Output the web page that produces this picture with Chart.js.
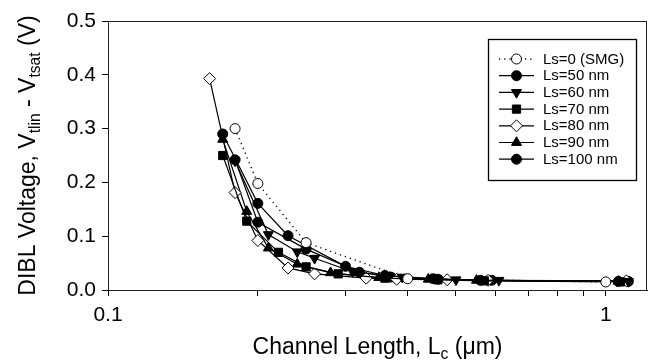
<!DOCTYPE html>
<html>
<head>
<meta charset="utf-8">
<script src="https://cdn.jsdelivr.net/npm/chart.js@4.4.1/dist/chart.umd.min.js"></script>
<style>
  html, body { margin: 0; padding: 0; background: #fff; }
  #wrap { width: 654px; height: 362px; }
</style>
</head>
<body>
<div id="wrap"><canvas id="dibl" width="654" height="362"></canvas></div>
<script>
// channel length Lc (um) and DIBL (V), one pair of arrays per Ls
const lcLs0   = [0.18, 0.20, 0.25, 0.40, 1.00];
const diblLs0 = [0.300, 0.198, 0.088, 0.021, 0.015];

const lcLs50   = [0.17, 0.20, 0.23, 0.30, 0.36, 0.45, 0.56, 1.06];
const diblLs50 = [0.290, 0.161, 0.101, 0.044, 0.027, 0.021, 0.018, 0.016];

const lcLs60   = [0.18, 0.21, 0.24, 0.26, 0.31, 0.39, 0.50, 0.61, 1.11];
const diblLs60 = [0.240, 0.103, 0.071, 0.059, 0.034, 0.024, 0.019, 0.018, 0.016];

const lcLs70   = [0.17, 0.19, 0.22, 0.25, 0.29, 0.36, 0.46, 0.57, 1.07];
const diblLs70 = [0.250, 0.128, 0.070, 0.043, 0.030, 0.022, 0.019, 0.017, 0.015];

const lcLs80   = [0.16, 0.18, 0.20, 0.23, 0.26, 0.33, 0.38, 0.48, 0.58, 1.10];
const diblLs80 = [0.393, 0.181, 0.092, 0.041, 0.030, 0.022, 0.020, 0.019, 0.018, 0.017];

const lcLs90   = [0.17, 0.19, 0.21, 0.24, 0.28, 0.35, 0.44, 0.55, 1.06];
const diblLs90 = [0.280, 0.146, 0.078, 0.048, 0.032, 0.023, 0.020, 0.018, 0.016];

const lcLs100   = [0.18, 0.20, 0.25, 0.32, 0.37, 0.46, 0.59, 1.11];
const diblLs100 = [0.242, 0.126, 0.076, 0.033, 0.024, 0.020, 0.018, 0.016];

const seriesNames = ['Ls=0 (SMG)', 'Ls=50 nm', 'Ls=60 nm', 'Ls=70 nm', 'Ls=80 nm', 'Ls=90 nm', 'Ls=100 nm'];
const xTickValues = [0.1, 0.2, 0.3, 0.4, 0.5, 0.6, 0.7, 0.8, 0.9, 1];
const xTickLabels = { 0.1: '0.1', 1: '1' };

const FONT = "'Liberation Sans', Arial, Helvetica, sans-serif";

const pairs = (xs, ys) => xs.map((x, i) => ({ x: x, y: ys[i] }));

const mk = (label, xs, ys, style, fill, extra) => Object.assign({
    label: label,
    data: pairs(xs, ys),
    borderColor: '#000',
    borderWidth: 1.2,
    pointStyle: style,
    pointRadius: 5,
    pointHoverRadius: 5,
    pointBorderWidth: 1,
    pointBorderColor: '#000',
    pointBackgroundColor: fill,
    tension: 0
}, extra || {});

const datasets = [
    mk(seriesNames[0], lcLs0, diblLs0, 'circle', '#fff', { borderDash: [1.2, 4], borderWidth: 1.4 }),
    mk(seriesNames[1], lcLs50, diblLs50, 'circle', '#000'),
    mk(seriesNames[2], lcLs60, diblLs60, 'triangle', '#000', { pointRotation: 180, pointRadius: 5.8 }),
    mk(seriesNames[3], lcLs70, diblLs70, 'rect', '#000', { pointRadius: 5.8 }),
    mk(seriesNames[4], lcLs80, diblLs80, 'rectRot', '#fff', { pointRadius: 6 }),
    mk(seriesNames[5], lcLs90, diblLs90, 'triangle', '#000', { pointRadius: 5.8 }),
    mk(seriesNames[6], lcLs100, diblLs100, 'circle', '#000')
];

// text with subscripts, drawn from the left end at baseline y
function richWidth(ctx, parts, size) {
    let w = 0;
    parts.forEach(p => {
        ctx.font = (p.sub ? size * 0.68 : size) + 'px ' + FONT;
        w += ctx.measureText(p.t).width;
    });
    return w;
}
function drawRich(ctx, parts, x, y, size) {
    let cx = x;
    parts.forEach(p => {
        const s = p.sub ? size * 0.68 : size;
        ctx.font = s + 'px ' + FONT;
        ctx.fillText(p.t, cx, p.sub ? y + size * 0.22 : y);
        cx += ctx.measureText(p.t).width;
    });
}

const yTitle = [{ t: 'DIBL Voltage, V' }, { t: 'tlin', sub: true }, { t: ' - V' }, { t: 'tsat', sub: true }, { t: ' (V)' }];
const xTitle = [{ t: 'Channel Length, L' }, { t: 'c', sub: true }, { t: ' (\u03bcm)' }];

const extras = {
    id: 'extras',
    afterDraw(chart) {
        const ctx = chart.ctx;
        const a = chart.chartArea;
        ctx.save();
        // frame
        ctx.strokeStyle = '#222';
        ctx.lineWidth = 1;
        ctx.strokeRect(a.left + 0.5, a.top + 0.5, a.right - a.left - 1, a.bottom - a.top);

        // axis titles
        ctx.fillStyle = '#000';
        ctx.textBaseline = 'alphabetic';
        const ts = 23;
        let w = richWidth(ctx, xTitle, ts);
        drawRich(ctx, xTitle, (a.left + a.right) / 2 - w / 2, 354, ts);
        ctx.save();
        ctx.translate(35, (a.top + a.bottom) / 2);
        ctx.rotate(-Math.PI / 2);
        w = richWidth(ctx, yTitle, ts);
        drawRich(ctx, yTitle, -w / 2, 0, ts);
        ctx.restore();

        // legend box
        const bx = 488, by = 39, bw = 148, bh = 141;
        ctx.fillStyle = '#fff';
        ctx.fillRect(bx, by, bw, bh);
        ctx.strokeStyle = '#000';
        ctx.lineWidth = 1.3;
        ctx.strokeRect(bx + 0.5, by + 0.5, bw, bh);
        chart.data.datasets.forEach((ds, i) => {
            const y = 59 + i * 16.7;
            ctx.strokeStyle = '#000';
            ctx.lineWidth = ds.borderWidth;
            ctx.setLineDash(ds.borderDash || []);
            ctx.beginPath();
            ctx.moveTo(499, y);
            ctx.lineTo(534, y);
            ctx.stroke();
            ctx.setLineDash([]);
            ctx.fillStyle = ds.pointBackgroundColor;
            ctx.lineWidth = 1;
            Chart.helpers.drawPoint(ctx, {
                pointStyle: ds.pointStyle,
                rotation: ds.pointRotation || 0,
                radius: ds.pointRadius,
                borderWidth: 1
            }, 516.5, y);
            ctx.fillStyle = '#000';
            ctx.font = '15px ' + FONT;
            ctx.textBaseline = 'middle';
            ctx.fillText(ds.label, 543, y + 0.5);
        });
        ctx.restore();
    }
};

new Chart(document.getElementById('dibl').getContext('2d'), {
    type: 'line',
    data: { datasets: datasets },
    options: {
        responsive: false,
        animation: false,
        layout: { padding: { top: 21, right: 2, left: 0, bottom: 0 } },
        plugins: { legend: { display: false }, tooltip: { enabled: false } },
        scales: {
            x: {
                type: 'logarithmic',
                min: 0.1,
                max: 1.21,
                afterBuildTicks: s => { s.ticks = xTickValues.map(v => ({ value: v })); },
                afterFit: s => { s.height = 72; },
                ticks: {
                    autoSkip: false,
                    maxRotation: 0,
                    padding: 7,
                    color: '#000',
                    font: { family: FONT, size: 21 },
                    callback: v => xTickLabels[v] || ''
                },
                grid: { drawOnChartArea: false, tickLength: 6, color: '#000' },
                border: { color: '#000', width: 1 }
            },
            y: {
                min: 0,
                max: 0.5,
                afterFit: s => { s.width = 108; },
                ticks: {
                    stepSize: 0.1,
                    padding: 6,
                    color: '#000',
                    font: { family: FONT, size: 21 },
                    callback: v => v.toFixed(1)
                },
                grid: { drawOnChartArea: false, tickLength: 6, color: '#000' },
                border: { color: '#000', width: 1 }
            }
        }
    },
    plugins: [extras]
});
</script>
</body>
</html>
